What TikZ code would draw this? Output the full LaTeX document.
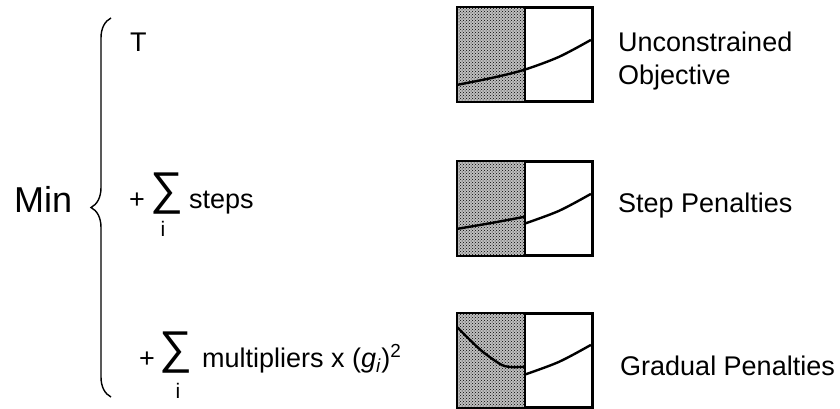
\documentclass[tikz,border=0pt]{standalone}
\usepackage{fontspec}
\setmainfont{Liberation Sans}
\usetikzlibrary{patterns,decorations.pathreplacing}

\begin{document}
\begin{tikzpicture}[x=1pt,y=-1pt,
    txt/.style={anchor=base west,inner sep=0pt,font=\fontsize{27}{33}\selectfont},
    sumsign/.style={anchor=base,inner sep=0pt,font=\fontsize{46}{46}\selectfont},
    index/.style={anchor=base,inner sep=0pt,font=\fontsize{21}{21}\selectfont},
    panel/.style={draw,line width=2.2pt,minimum width=134pt,minimum height=93pt,inner sep=0pt},
    shade/.style={fill=black!25,postaction={pattern=crosshatch dots,pattern color=black}},
    curve/.style={line width=2.4pt}
]
    \useasboundingbox (0,0) rectangle (840,409);

    \node[txt,font=\fontsize{36}{36}\selectfont] (minword) at (14,212) {Min};
    \draw[line width=1.4pt,decorate,decoration={brace,amplitude=20pt}]
        (111,397) -- (111,18);

    \node[txt] (tterm) at (130,52) {T};
    \node[txt] (plusa) at (129,208) {+};
    \node[sumsign] (suma) at (167,204) {∑};
    \node[index] (idxa) at (163,236) {i};
    \node[txt] (steps) at (189,208) {steps};
    \node[txt] (plusb) at (139,367) {+};
    \node[sumsign] (sumb) at (176,363) {∑};
    \node[index] (idxb) at (178,398) {i};
    \node[txt] (mult) at (202,367)
        {multipliers x (\textit{g}\textsubscript{\textit{i}})\textsuperscript{2}};

    \node[panel] (objbox) at (525,54.5) {};
    \node[panel] (stepbox) at (525,208.5) {};
    \node[panel] (gradbox) at (525,360.5) {};
    \foreach \b in {objbox,stepbox,gradbox}{
        \fill[shade] (\b.north west) rectangle (\b.south);
        \draw[line width=2.2pt] (\b.north west) rectangle (\b.south east);
        \draw[line width=2.2pt] (\b.north) -- (\b.south);
    }

    \begin{scope}[shift={(objbox.north west)}]
        \draw[curve] plot[smooth] coordinates {(0,78) (35,71) (67,63) (102,50) (134,33)};
    \end{scope}
    \begin{scope}[shift={(stepbox.north west)}]
        \draw[curve] plot[smooth] coordinates {(0,68) (35,62) (67,56)};
        \draw[curve] plot[smooth] coordinates {(67,63) (102,50) (134,33)};
    \end{scope}
    \begin{scope}[shift={(gradbox.north west)}]
        \draw[curve] plot[smooth] coordinates {(0,14) (12,26) (26,39) (43,51) (52,54) (67,54)};
        \draw[curve] plot[smooth] coordinates {(67,62) (102,49) (134,32)};
    \end{scope}

    \node[txt,anchor=north west,align=left] (objlabel) at (618,32) {Unconstrained\\Objective};
    \node[txt] (steplabel) at (618,212) {Step Penalties};
    \node[txt] (gradlabel) at (620,375) {Gradual Penalties};
\end{tikzpicture}
\end{document}
